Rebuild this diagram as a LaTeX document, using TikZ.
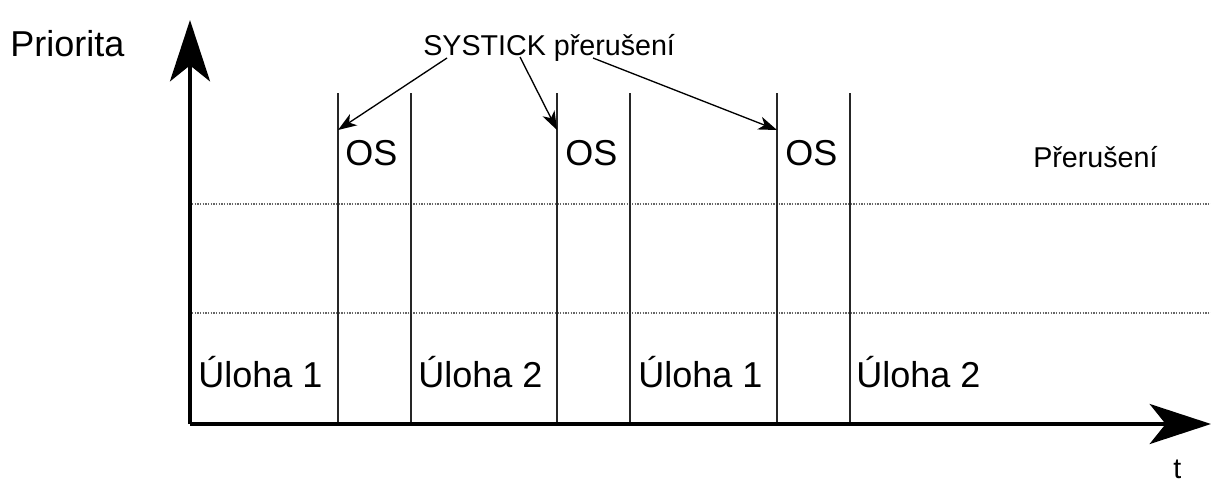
\documentclass[tikz,border=0pt]{standalone}
\usepackage{fontspec}
\setmainfont{Liberation Sans}
\usetikzlibrary{arrows.meta}
\begin{document}
\begin{tikzpicture}[x=0.75pt,y=-0.75pt,
  big/.style={inner sep=0pt,anchor=base west,font=\fontsize{27}{30}\selectfont},
  small/.style={inner sep=0pt,anchor=base west,font=\fontsize{21.5}{24}\selectfont},
  axis/.style={line width=3pt,-{Stealth[length=46pt,width=30pt,inset=12pt]}},
  tick/.style={line width=1.1pt,draw=black!85},
  grid/.style={line width=0.8pt,draw=black!60,dash pattern=on 1pt off 1pt},
  callout/.style={line width=1pt,-{Stealth[length=14pt,width=10pt,inset=4pt]}}]
\useasboundingbox (0,0) rectangle (1211,482);
% origin
\coordinate (o) at (190,424);
\coordinate (ytip) at (190,20);
\coordinate (xtip) at (1211,424);
% dotted levels
\coordinate (d1a) at (192,204); \coordinate (d1b) at (1211,204);
\coordinate (d2a) at (192,313); \coordinate (d2b) at (1211,313);
\draw[grid] (d1a) -- (d1b);
\draw[grid] (d2a) -- (d2b);
% vertical separators
\foreach \i/\x in {1/338,2/411,3/557,4/630,5/777,6/850}{
  \coordinate (t\i) at (\x,93);
  \coordinate (b\i) at (\x,424);
  \draw[tick] (t\i) -- (b\i);
}
% axes
\draw[axis] (o) -- (ytip);
\draw[axis] (o) -- (xtip);
% labels
\node[big] (prio) at (10,56) {Priorita};
\node[small] (tl) at (1173,478) {t};
\node[small] (sys) at (423,55) {SYSTICK přerušení};
\node[small] (prer) at (1033,167) {Přerušení};
\node[big] (os1) at (345,165) {OS};
\node[big] (os2) at (565,165) {OS};
\node[big] (os3) at (785,165) {OS};
\node[big] (u1) at (198,387) {Úloha 1};
\node[big] (u2) at (418,387) {Úloha 2};
\node[big] (u3) at (638,387) {Úloha 1};
\node[big] (u4) at (856,387) {Úloha 2};
% callout arrows
\coordinate (s1) at (447,58); \coordinate (e1) at (338,130);
\coordinate (s2) at (520,57); \coordinate (e2) at (557,130);
\coordinate (s3) at (593,58); \coordinate (e3) at (777,130);
\draw[callout] (s1) -- (e1);
\draw[callout] (s2) -- (e2);
\draw[callout] (s3) -- (e3);
\end{tikzpicture}
\end{document}
